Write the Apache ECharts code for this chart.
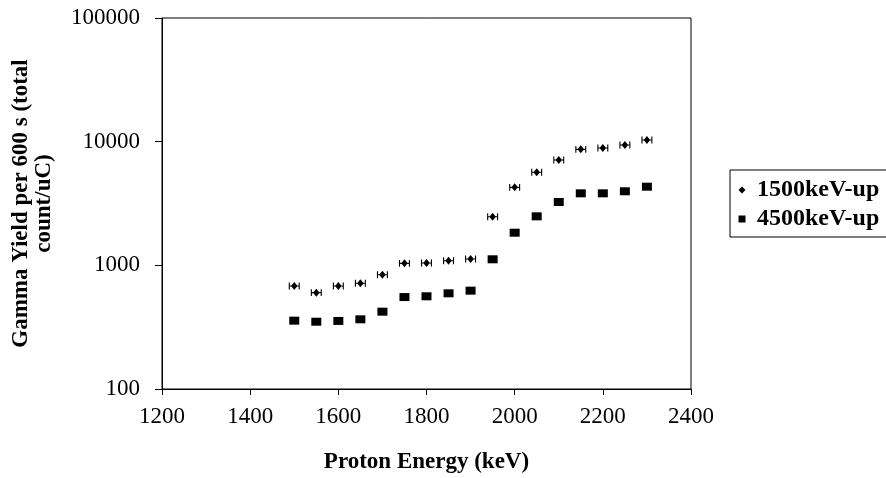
<!DOCTYPE html>
<html>
<head>
<meta charset="utf-8">
<script src="https://cdn.jsdelivr.net/npm/echarts@6/dist/echarts.min.js"></script>
<style>
html,body{margin:0;padding:0;background:#fff;}
#chart{width:886px;height:478px;}
</style>
</head>
<body>
<div id="chart"></div>
<script>
var energies = [1500,1550,1600,1650,1700,1750,1800,1850,1900,1950,2000,2050,2100,2150,2200,2250,2300];
var yield1500 = [680,601,680,716,840,1038,1045,1090,1125,2473,4275,5653,7110,8670,8890,9400,10310];
var yield4500 = [357,350,355,366,422,554,562,594,624,1119,1836,2490,3251,3822,3822,3970,4324];
var seriesNames = ['1500keV-up','4500keV-up'];
var xTickMin = 1200, xTickMax = 2400, xTickStep = 200;
var yMin = 100, yMax = 100000;

function pairs(xs, ys){ return xs.map(function(x,i){ return [x, ys[i]]; }); }

var FONT = 'Liberation Serif';
var diamondBars = 'path://M0 1 H2 V13 H0 Z M18 1 H20 V13 H18 Z M0 6 H20 V8 H0 Z M10 0 L16 7 L10 14 L4 7 Z';
var legendDiamond = 'path://M0 4 L0.01 4 L0 4.01 Z M20 4 L19.99 4 L20 4.01 Z M10 0.5 L13.5 4 L10 7.5 L6.5 4 Z';
var legendSquare = 'path://M0 4 L0.01 4 L0 4.01 Z M20 4 L19.99 4 L20 4.01 Z M6.5 0.5 H13.5 V7.5 H6.5 Z';

var chart = echarts.init(document.getElementById('chart'), null, {renderer:'canvas'});
chart.setOption({
  animation: false,
  backgroundColor: '#ffffff',
  textStyle: {fontFamily: FONT, color: '#000'},
  grid: {left: 162, right: 195, top: 18, bottom: 89, show: true, borderColor: '#000', borderWidth: 1, backgroundColor: 'transparent', containLabel: false, outerBoundsMode: 'none'},
  legend: {
    left: 730, top: 170,
    orient: 'vertical',
    padding: [7, 14, 5, 2],
    borderColor: '#000', borderWidth: 1,
    itemWidth: 20, itemHeight: 8, itemGap: 3,
    itemStyle: {borderWidth: 0},
    textStyle: {fontFamily: FONT, fontWeight: 'bold', fontSize: 24, color: '#000', lineHeight: 26},
    data: [{name: seriesNames[0], icon: legendDiamond}, {name: seriesNames[1], icon: legendSquare}]
  },
  xAxis: {
    type: 'value', min: xTickMin, max: xTickMax, interval: xTickStep,
    name: 'Proton Energy (keV)', nameLocation: 'middle', nameGap: 62, nameMoveOverlap: false,
    nameTextStyle: {fontFamily: FONT, fontWeight: 'bold', fontSize: 23, color: '#000'},
    axisLine: {show: true, onZero: false, lineStyle: {color: '#000', width: 1}},
    axisTick: {show: true, inside: false, length: 6, lineStyle: {color: '#000'}},
    axisLabel: {fontFamily: FONT, fontSize: 23, color: '#000', margin: 16, formatter: function(v){ return String(v); }},
    splitLine: {show: false}
  },
  yAxis: {
    type: 'log', logBase: 10, min: yMin, max: yMax,
    name: 'Gamma Yield per 600 s (total\ncount/uC)', nameLocation: 'middle', nameGap: 106, nameRotate: 90, nameMoveOverlap: false,
    nameTextStyle: {fontFamily: FONT, fontWeight: 'bold', fontSize: 23, color: '#000', lineHeight: 23, align: 'center'},
    axisLine: {show: true, lineStyle: {color: '#000', width: 1}},
    axisTick: {show: true, inside: false, length: 7, lineStyle: {color: '#000'}},
    axisLabel: {fontFamily: FONT, fontSize: 23, color: '#000', margin: 22, formatter: function(v){ return String(Math.round(v)); }},
    splitLine: {show: false}, minorTick: {show: false}
  },
  series: [
    {name: seriesNames[0], type: 'scatter', data: pairs(energies, yield1500), symbol: diamondBars, symbolSize: [11, 8], itemStyle: {color: '#000', opacity: 1}},
    {name: seriesNames[1], type: 'scatter', data: pairs(energies, yield4500), symbol: 'rect', symbolSize: [10, 8], itemStyle: {color: '#000', opacity: 1}}
  ]
});
</script>
</body>
</html>
